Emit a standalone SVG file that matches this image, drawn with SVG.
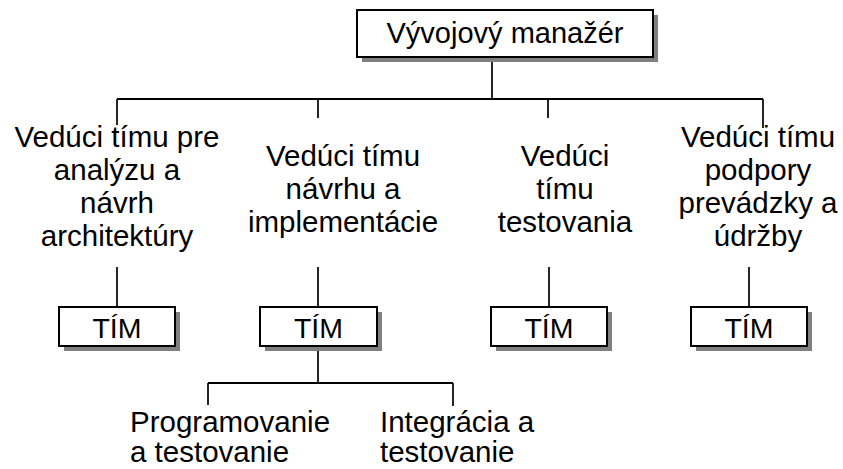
<svg xmlns="http://www.w3.org/2000/svg" width="843" height="469" viewBox="0 0 843 469">
<style>
text{font-family:"Liberation Sans",Arial,sans-serif;font-size:29.5px;fill:#000}
.c{text-anchor:middle}
.t{font-size:28.5px}
.box{fill:#fff;stroke:#000;stroke-width:2}
.sh{fill:#808080}
.ln{fill:none;stroke:#000;stroke-width:2}
.v{fill:none;stroke:#000;stroke-width:1.7}
</style>
<rect width="843" height="469" fill="#fff"/>
<g id="connectors">
<path class="v" d="M492 57V99"/>
<path class="ln" d="M117 99H763"/>
<path class="v" d="M117 99V125M318 99V118M548 99V118M763 99V128"/>
<path class="v" d="M117 267V307M318 267V307M549 267V307M749 267V307"/>
<path class="v" d="M318 346V383M208 383V405M453 383V406"/>
<path class="ln" d="M208 383H453"/>
</g>
<g id="manager">
<rect class="sh" x="362" y="15" width="296" height="47"/>
<rect class="box" x="357" y="10" width="296" height="47"/>
<text class="c t" x="505" y="43" style="font-size:29px">Vývojový manažér</text>
</g>
<g id="lead1">
<text class="c" x="117" y="147">Vedúci tímu pre</text>
<text class="c" x="117" y="180">analýzu a</text>
<text class="c" x="117" y="213">návrh</text>
<text class="c" x="117" y="246">architektúry</text>
</g>
<g id="lead2">
<text class="c" x="343" y="166">Vedúci tímu</text>
<text class="c" x="343" y="199">návrhu a</text>
<text class="c" x="343" y="232">implementácie</text>
</g>
<g id="lead3">
<text class="c" x="565" y="166">Vedúci</text>
<text class="c" x="565" y="199">tímu</text>
<text class="c" x="565" y="232">testovania</text>
</g>
<g id="lead4">
<text class="c" x="758" y="147">Vedúci tímu</text>
<text class="c" x="758" y="180">podpory</text>
<text class="c" x="758" y="213">prevádzky a</text>
<text class="c" x="758" y="246">údržby</text>
</g>
<g id="team1">
<rect class="sh" x="64" y="312" width="116" height="39"/>
<rect class="box" x="59" y="307" width="116" height="39"/>
<text class="c t" x="117" y="338">TÍM</text>
</g>
<g id="team2">
<rect class="sh" x="265" y="312" width="117" height="39"/>
<rect class="box" x="260" y="307" width="117" height="39"/>
<text class="c t" x="318.5" y="338">TÍM</text>
</g>
<g id="team3">
<rect class="sh" x="496" y="312" width="116" height="39"/>
<rect class="box" x="491" y="307" width="116" height="39"/>
<text class="c t" x="549" y="338">TÍM</text>
</g>
<g id="team4">
<rect class="sh" x="696" y="312" width="116" height="39"/>
<rect class="box" x="691" y="307" width="116" height="39"/>
<text class="c t" x="749" y="338">TÍM</text>
</g>
<g id="programming">
<text x="130" y="432">Programovanie</text>
<text x="130" y="462">a testovanie</text>
</g>
<g id="integration">
<text x="380" y="432">Integrácia a</text>
<text x="380" y="462">testovanie</text>
</g>
</svg>
